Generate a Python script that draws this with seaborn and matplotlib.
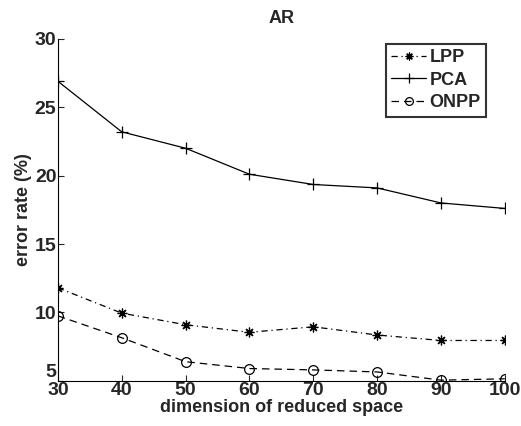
import matplotlib
matplotlib.use("Agg")
import matplotlib.pyplot as plt
import seaborn as sns
import pandas as pd

dims = [30, 40, 50, 60, 70, 80, 90, 100]
lpp = [11.8, 9.95, 9.1, 8.55, 8.95, 8.35, 7.95, 7.95]
pca = [26.9, 23.2, 22.0, 20.1, 19.35, 19.1, 18.0, 17.6]
onpp = [9.75, 8.15, 6.4, 5.9, 5.8, 5.65, 5.05, 5.15]

df = pd.DataFrame({"dim": dims * 3,
                   "err": lpp + pca + onpp,
                   "method": ["LPP"] * 8 + ["PCA"] * 8 + ["ONPP"] * 8})

sns.set_style("ticks")
plt.rcParams["font.family"] = ["Liberation Sans", "DejaVu Sans"]
plt.rcParams["font.weight"] = "bold"

fig = plt.figure(figsize=(5.21, 4.26), dpi=100)
ax = fig.add_axes([0.111, 0.106, 0.858, 0.803])

# matlab-ish markers: asterisk, plus, hollow circle
styles = {"LPP": dict(ls=(0, (5, 3, 1, 3)), marker=(8, 2, 0), ms=7),
          "PCA": dict(ls="-", marker="+", ms=9),
          "ONPP": dict(ls=(0, (6, 4)), marker="o", mfc="none", ms=7)}
for m in ["LPP", "PCA", "ONPP"]:
    sub = df[df["method"] == m]
    sns.lineplot(data=sub, x="dim", y="err", color="black", lw=0.9,
                 label=m, ax=ax, mew=0.9, mec="black", **styles[m])

ax.set_xlim(30, 100)
ax.set_ylim(5, 30)
ax.set_xticks(dims)
ax.set_yticks([5, 10, 15, 20, 25, 30])
ax.tick_params(direction="in", labelsize=14, length=4, width=0.8, pad=1)
for lab in ax.get_xticklabels() + ax.get_yticklabels():
    lab.set_fontweight("bold")
ax.get_yticklabels()[0].set_va("bottom")
sns.despine(ax=ax)
for s in ["left", "bottom"]:
    ax.spines[s].set_linewidth(0.8)
    ax.spines[s].set_color("black")

ax.set_xlabel("dimension of reduced space", fontsize=13, fontweight="bold", labelpad=0)
ax.set_ylabel("error rate (%)", fontsize=13, fontweight="bold", labelpad=2)
ax.set_title("AR", fontsize=13, fontweight="bold", pad=11)

leg = ax.legend(loc="upper right", bbox_to_anchor=(0.958, 0.985),
                prop={"size": 13, "weight": "bold"},
                frameon=True, fancybox=False, handlelength=1.9, handletextpad=0.2,
                borderpad=0.3, labelspacing=0.3, borderaxespad=0, markerscale=0.8)
leg.get_frame().set_edgecolor("black")
leg.get_frame().set_linewidth(1.5)

fig.savefig("out.png", dpi=100)
